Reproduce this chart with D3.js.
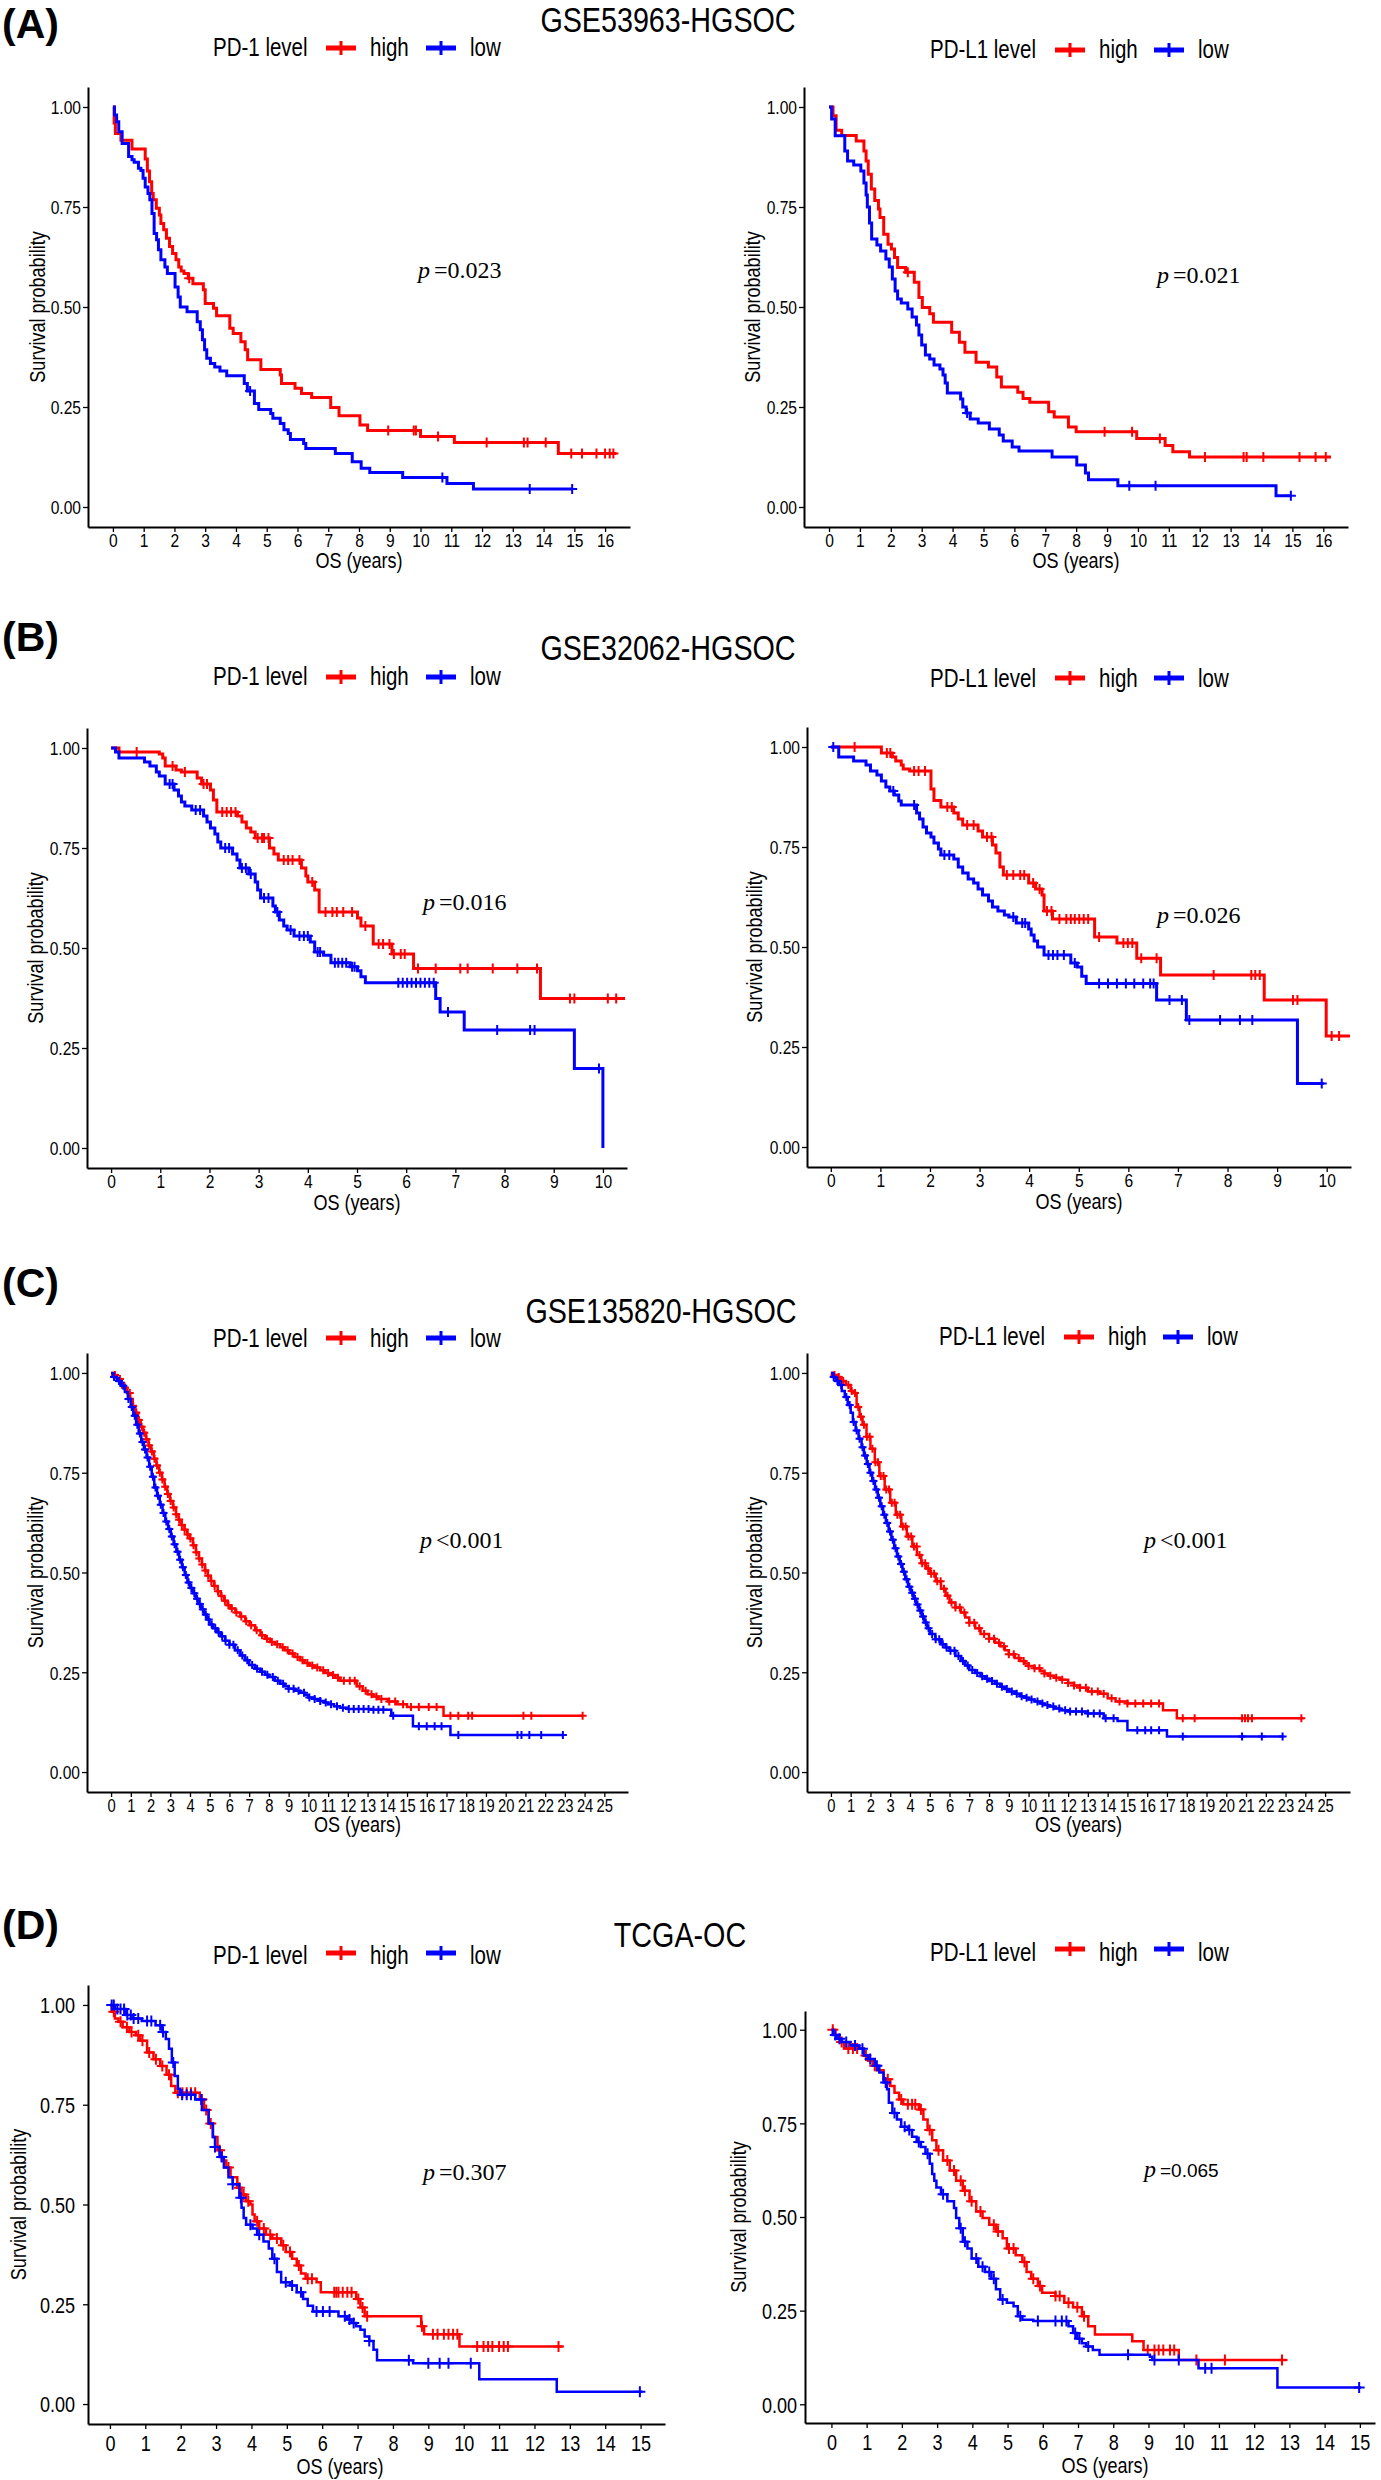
<!DOCTYPE html>
<html><head><meta charset="utf-8">
<script src="https://cdnjs.cloudflare.com/ajax/libs/d3/7.8.5/d3.min.js"></script>
<style>body{margin:0;background:#fff}svg{display:block;background:#fff}</style>
</head><body>
<svg id="chart" width="1381" height="2480"></svg>
<script>
// ---------------- DATA ----------------
const panelLetters = ["(A)", "(B)", "(C)", "(D)"];
const datasetTitles = ["GSE53963-HGSOC", "GSE32062-HGSOC", "GSE135820-HGSOC", "TCGA-OC"];
const legendTitles = ["PD-1 level", "PD-L1 level"];
const groupLabels = ["high", "low"];
const pValues = ["=0.023", "=0.021", "=0.016", "=0.026", "<0.001", "<0.001", "=0.307", "=0.065"];
const yTickValues = [0, 0.25, 0.5, 0.75, 1];
const xTickMax = [16, 10, 25, 15];

// (A) GSE53963 PD-1
const A1_high_t = [0.04,0.08,0.26,0.62,1.05,1.12,1.19,1.26,1.31,1.41,1.51,1.56,1.65,1.74,1.84,1.94,2.05,2.14,2.22,2.31,2.45,2.6,2.94,3.0,3.27,3.37,3.8,3.91,4.16,4.3,4.38,4.81,5.44,5.48,5.92,6.13,6.46,7.08,7.35,8.03,8.28,10.0,11.1,14.48];
const A1_high_s = [0.96,0.934,0.917,0.895,0.87,0.84,0.813,0.784,0.768,0.747,0.73,0.709,0.693,0.672,0.651,0.634,0.618,0.6,0.59,0.584,0.572,0.558,0.543,0.509,0.497,0.478,0.447,0.434,0.413,0.393,0.368,0.344,0.33,0.309,0.297,0.284,0.274,0.249,0.228,0.205,0.191,0.176,0.161,0.134];
const A1_high_c = [2.48,8.95,9.78,9.85,10.57,12.15,13.36,13.48,14.07,14.9,15.25,15.72,16.0,16.15,16.27];
const A1_high_end = 16.37;
const A1_low_t = [0.05,0.12,0.19,0.3,0.51,0.62,0.69,0.83,0.91,0.98,1.05,1.14,1.2,1.27,1.34,1.42,1.48,1.56,1.69,1.77,2.02,2.12,2.19,2.41,2.74,2.84,2.91,2.98,3.05,3.17,3.31,3.48,3.7,4.27,4.37,4.6,4.74,5.13,5.2,5.44,5.56,5.7,5.77,6.2,6.27,7.23,7.78,8.07,8.35,9.42,10.86,11.72];
const A1_low_s = [0.98,0.963,0.938,0.909,0.876,0.868,0.862,0.847,0.841,0.822,0.8,0.784,0.768,0.734,0.684,0.668,0.643,0.618,0.6,0.584,0.55,0.525,0.5,0.488,0.463,0.443,0.418,0.393,0.372,0.359,0.35,0.34,0.328,0.309,0.29,0.259,0.244,0.234,0.222,0.209,0.193,0.184,0.169,0.159,0.146,0.134,0.113,0.097,0.086,0.074,0.059,0.045];
const A1_low_c = [4.46,10.71,13.55,14.93];
const A1_low_end = 14.95;

// (A) GSE53963 PD-L1
const A2_high_t = [0.13,0.23,0.41,0.88,1.13,1.2,1.27,1.37,1.48,1.6,1.65,1.77,1.91,2.02,2.12,2.22,2.48,2.76,2.91,3.02,3.26,3.38,3.97,4.22,4.4,4.76,5.16,5.43,5.58,6.11,6.28,6.5,7.11,7.29,7.75,8.0,9.96,10.88,11.13,11.67];
const A2_high_s = [0.978,0.942,0.929,0.915,0.89,0.865,0.832,0.795,0.766,0.745,0.724,0.682,0.657,0.645,0.624,0.599,0.587,0.562,0.524,0.499,0.483,0.462,0.437,0.412,0.387,0.362,0.35,0.325,0.3,0.287,0.271,0.262,0.238,0.225,0.2,0.188,0.171,0.154,0.138,0.125];
const A2_high_c = [2.55,8.92,9.81,10.71,12.17,13.42,13.52,14.06,15.23,15.75,16.08];
const A2_high_end = 16.25;
const A2_low_t = [0.085,0.2,0.51,0.6,0.8,1.03,1.13,1.2,1.24,1.31,1.38,1.55,1.67,1.84,1.95,2.05,2.14,2.22,2.34,2.55,2.69,2.83,2.91,3.0,3.12,3.26,3.4,3.59,3.69,3.76,3.83,4.26,4.33,4.44,4.57,4.83,5.19,5.51,5.64,5.93,6.15,7.22,8.02,8.3,8.4,9.35,14.47];
const A2_low_s = [0.97,0.928,0.89,0.865,0.855,0.84,0.81,0.78,0.75,0.71,0.67,0.655,0.64,0.62,0.6,0.57,0.54,0.52,0.51,0.495,0.475,0.455,0.43,0.405,0.38,0.37,0.355,0.345,0.33,0.31,0.285,0.27,0.25,0.235,0.22,0.21,0.195,0.18,0.165,0.15,0.14,0.125,0.105,0.085,0.068,0.053,0.028];
const A2_low_c = [4.47,9.72,10.57,14.95];
const A2_low_end = 14.97;

// (B) GSE32062 PD-1
const B1_high_t = [0.16,0.98,1.05,1.1,1.32,1.43,1.75,1.84,2.02,2.08,2.15,2.57,2.66,2.75,2.84,2.93,3.22,3.31,3.4,3.87,3.96,4.0,4.14,4.23,5.01,5.08,5.33,5.71,6.15,8.73];
const B1_high_s = [0.99,0.985,0.975,0.955,0.945,0.94,0.925,0.91,0.895,0.87,0.84,0.83,0.815,0.8,0.79,0.775,0.75,0.735,0.72,0.7,0.68,0.665,0.645,0.59,0.575,0.555,0.51,0.485,0.449,0.374];
const B1_high_c = [0.52,1.25,1.5,1.88,1.95,2.26,2.35,2.44,2.53,2.98,3.07,3.11,3.2,3.51,3.6,3.69,3.83,4.09,4.36,4.5,4.59,4.72,4.9,5.17,5.44,5.53,5.66,5.75,5.89,5.97,6.24,6.6,7.1,7.25,7.76,8.26,8.66,9.33,9.42,10.1,10.27];
const B1_high_end = 10.45;
const B1_low_t = [0.09,0.16,0.68,0.79,0.92,0.98,1.1,1.28,1.37,1.43,1.5,1.64,1.88,1.95,2.02,2.11,2.17,2.23,2.47,2.56,2.62,2.8,2.93,2.98,3.04,3.29,3.34,3.42,3.51,3.58,3.72,4.05,4.14,4.32,4.47,4.86,5.01,5.08,5.17,6.6,6.69,7.18,9.42,10.0];
const B1_low_s = [0.99,0.975,0.965,0.955,0.94,0.93,0.91,0.895,0.88,0.865,0.855,0.845,0.83,0.815,0.8,0.785,0.765,0.75,0.735,0.72,0.7,0.685,0.665,0.645,0.625,0.605,0.59,0.57,0.555,0.545,0.53,0.515,0.49,0.482,0.463,0.453,0.443,0.428,0.413,0.374,0.34,0.295,0.199,0.0];
const B1_low_c = [1.19,1.25,1.72,1.81,2.32,2.4,2.66,2.74,2.84,3.11,3.2,3.38,3.65,3.83,3.92,4.0,4.2,4.25,4.55,4.62,4.7,4.78,4.9,4.95,5.84,5.93,6.02,6.11,6.2,6.29,6.38,6.47,6.56,6.85,7.85,8.52,8.61,9.92];
const B1_low_end = 10.0;

// (B) GSE32062 PD-L1
const B2_high_t = [1.02,1.24,1.31,1.42,1.46,1.59,2.02,2.08,2.22,2.48,2.57,2.66,2.97,3.06,3.26,3.33,3.41,3.48,3.99,4.13,4.26,4.3,4.47,5.32,5.77,6.17,6.65,8.74,9.99];
const B2_high_s = [0.985,0.975,0.965,0.955,0.945,0.94,0.895,0.866,0.85,0.835,0.82,0.805,0.79,0.775,0.755,0.735,0.7,0.68,0.66,0.645,0.63,0.59,0.57,0.525,0.51,0.472,0.43,0.3675,0.2775];
const B2_high_c = [0.48,1.13,1.2,1.68,1.77,1.9,2.35,2.44,2.75,2.88,3.15,3.24,3.55,3.68,3.82,3.9,4.08,4.21,4.36,4.45,4.61,4.75,4.84,4.92,5.01,5.1,5.19,5.41,5.9,5.99,6.08,6.26,6.57,7.72,8.48,8.56,8.65,9.32,9.41,10.1,10.25];
const B2_high_end = 10.47;
const B2_low_t = [0.16,0.46,0.71,0.8,0.93,1.02,1.11,1.19,1.28,1.37,1.42,1.73,1.79,1.86,1.93,2.02,2.08,2.17,2.22,2.48,2.57,2.66,2.77,2.88,2.97,3.06,3.18,3.26,3.37,3.5,3.59,3.74,3.99,4.04,4.1,4.17,4.3,4.84,4.97,5.06,5.15,6.57,7.17,9.41];
const B2_low_s = [0.975,0.965,0.955,0.94,0.93,0.915,0.9,0.89,0.88,0.865,0.855,0.835,0.82,0.8,0.785,0.775,0.76,0.745,0.73,0.72,0.7,0.685,0.67,0.66,0.645,0.63,0.615,0.6,0.59,0.58,0.575,0.56,0.545,0.53,0.515,0.5,0.48,0.46,0.45,0.427,0.409,0.3675,0.3175,0.159];
const B2_low_c = [0.05,1.26,1.68,2.29,2.39,3.68,3.86,3.92,4.39,4.48,4.57,4.7,4.92,5.41,5.59,5.77,5.95,6.12,6.3,6.44,6.51,6.83,7.08,7.23,7.85,8.25,8.5,9.9];
const B2_low_end = 9.94;

// (C) GSE135820 PD-1
const C1_high_t = [0.12,0.3,0.48,0.66,0.82,0.97,1.1,1.24,1.37,1.5,1.63,1.77,1.9,2.03,2.17,2.3,2.44,2.58,2.71,2.85,2.99,3.14,3.29,3.42,3.56,3.72,3.86,3.99,4.15,4.3,4.45,4.6,4.76,4.9,5.05,5.22,5.4,5.56,5.73,5.9,6.05,6.3,6.55,6.8,7.02,7.3,7.57,7.8,8.05,8.3,8.58,8.8,9.03,9.3,9.58,9.8,10.05,10.3,10.6,10.85,11.05,11.35,11.62,12.45,12.75,13.0,13.25,13.55,14.05,14.5,15.0,16.85];
const C1_high_s = [0.995,0.985,0.975,0.963,0.95,0.935,0.917,0.9,0.882,0.865,0.85,0.834,0.818,0.803,0.785,0.768,0.75,0.733,0.715,0.697,0.679,0.663,0.646,0.632,0.619,0.607,0.595,0.585,0.568,0.551,0.535,0.52,0.505,0.492,0.479,0.466,0.453,0.441,0.429,0.418,0.41,0.4,0.39,0.378,0.368,0.355,0.343,0.334,0.326,0.32,0.313,0.305,0.297,0.288,0.28,0.273,0.267,0.262,0.255,0.248,0.243,0.236,0.229,0.215,0.204,0.195,0.189,0.183,0.177,0.17,0.163,0.141];
const C1_high_c = [0.2,0.45,0.7,0.95,1.12,1.28,1.41,1.55,1.68,1.8,1.93,2.07,2.2,2.33,2.47,2.6,2.74,2.88,3.02,3.17,3.3,3.45,3.59,3.73,3.88,4.02,4.18,4.32,4.47,4.62,4.78,4.92,5.08,5.25,5.42,5.6,5.77,5.95,6.12,6.35,6.6,6.85,7.1,7.38,7.65,7.9,8.15,8.42,8.7,8.95,9.2,9.45,9.7,9.95,10.2,10.45,10.75,11.0,11.25,11.5,11.8,12.1,12.35,12.6,12.9,13.2,13.45,13.7,14.1,14.4,14.8,15.2,15.6,16.1,16.5,17.2,17.6,18.1,18.3,20.9,21.3,23.9];
const C1_high_end = 23.9;
const C1_low_t = [0.12,0.3,0.5,0.7,0.85,1.0,1.13,1.27,1.4,1.53,1.66,1.8,1.93,2.06,2.19,2.33,2.47,2.61,2.75,2.89,3.03,3.17,3.31,3.45,3.59,3.73,3.87,4.01,4.15,4.29,4.43,4.57,4.71,4.85,4.99,5.17,5.36,5.55,5.78,6.0,6.28,6.55,6.78,7.0,7.28,7.56,7.8,8.0,8.3,8.57,8.8,9.0,9.3,9.57,9.8,10.0,10.3,10.6,10.8,11.0,11.3,11.6,12.0,13.2,14.2,15.3,17.2];
const C1_low_s = [0.99,0.98,0.968,0.952,0.935,0.915,0.893,0.87,0.848,0.827,0.808,0.788,0.765,0.74,0.713,0.692,0.67,0.649,0.628,0.609,0.59,0.571,0.552,0.532,0.513,0.494,0.475,0.461,0.448,0.434,0.421,0.408,0.395,0.382,0.37,0.36,0.35,0.34,0.329,0.319,0.305,0.292,0.28,0.268,0.259,0.251,0.244,0.238,0.229,0.221,0.215,0.209,0.204,0.199,0.193,0.187,0.183,0.178,0.174,0.17,0.165,0.161,0.158,0.156,0.141,0.115,0.093];
const C1_low_c = [0.15,0.4,0.62,0.88,1.05,1.2,1.33,1.46,1.59,1.72,1.85,1.98,2.12,2.25,2.38,2.52,2.66,2.8,2.95,3.08,3.22,3.37,3.5,3.64,3.79,3.93,4.07,4.22,4.36,4.5,4.65,4.8,4.95,5.1,5.28,5.45,5.63,5.8,6.0,6.2,6.42,6.65,6.9,7.15,7.4,7.65,7.92,8.2,8.45,8.72,9.0,9.25,9.5,9.78,10.05,10.32,10.6,10.88,11.15,11.45,11.75,12.05,12.3,12.55,12.8,13.05,13.3,13.55,13.8,14.3,15.6,16.0,16.4,16.75,17.6,20.6,20.8,21.2,21.8,22.9];
const C1_low_end = 22.9;

// (C) GSE135820 PD-L1
const C2_high_t = [0.1,0.3,0.5,0.75,1.0,1.1,1.3,1.45,1.6,1.8,2.0,2.22,2.45,2.72,3.0,3.28,3.56,3.84,4.12,4.35,4.57,4.8,5.0,5.3,5.57,5.8,6.0,6.3,6.57,6.8,7.0,7.3,7.57,8.0,8.3,8.57,8.8,9.0,9.3,9.58,9.8,10.0,10.3,10.6,10.8,11.0,11.3,11.6,12.0,12.3,12.6,13.0,13.6,14.0,14.4,15.0,16.8,17.5];
const C2_high_s = [0.995,0.99,0.98,0.97,0.955,0.95,0.915,0.89,0.87,0.84,0.81,0.776,0.742,0.708,0.675,0.645,0.615,0.59,0.565,0.544,0.523,0.51,0.497,0.478,0.459,0.442,0.425,0.412,0.4,0.387,0.374,0.36,0.346,0.334,0.324,0.315,0.305,0.295,0.286,0.278,0.272,0.266,0.26,0.253,0.247,0.241,0.236,0.231,0.223,0.217,0.211,0.202,0.196,0.185,0.177,0.172,0.155,0.135];
const C2_high_c = [0.18,0.4,0.62,0.88,1.05,1.22,1.38,1.52,1.67,1.82,1.96,2.1,2.25,2.38,2.52,2.66,2.8,2.94,3.08,3.22,3.36,3.5,3.64,3.78,3.92,4.06,4.2,4.34,4.48,4.62,4.77,4.92,5.07,5.22,5.38,5.55,5.72,5.9,6.1,6.3,6.52,6.75,7.0,7.25,7.5,7.75,8.0,8.25,8.5,8.75,9.0,9.25,9.5,9.75,10.0,10.3,10.55,10.8,11.1,11.4,11.7,12.0,12.3,12.6,12.9,13.2,13.5,13.8,14.2,14.6,15.0,15.4,15.8,16.2,16.6,17.8,18.4,20.8,20.95,21.1,21.3,23.8];
const C2_high_end = 23.9;
const C2_low_t = [0.1,0.25,0.4,0.55,0.7,0.85,1.0,1.11,1.25,1.4,1.55,1.67,1.81,1.95,2.09,2.23,2.37,2.5,2.64,2.78,2.92,3.06,3.2,3.34,3.48,3.62,3.76,3.9,4.04,4.18,4.31,4.45,4.59,4.73,4.87,5.0,5.28,5.57,5.8,6.0,6.3,6.57,6.8,7.0,7.3,7.57,7.8,8.0,8.3,8.57,8.8,9.0,9.3,9.58,9.8,10.0,10.3,10.6,10.8,11.0,11.3,11.6,12.0,13.0,13.8,14.5,15.0,17.0];
const C2_low_s = [0.99,0.98,0.97,0.955,0.94,0.92,0.9,0.877,0.856,0.835,0.814,0.793,0.772,0.75,0.729,0.708,0.687,0.666,0.645,0.624,0.603,0.582,0.561,0.54,0.521,0.502,0.483,0.464,0.449,0.434,0.42,0.405,0.39,0.375,0.36,0.346,0.333,0.32,0.312,0.304,0.291,0.278,0.267,0.256,0.248,0.24,0.234,0.228,0.221,0.214,0.208,0.202,0.196,0.19,0.186,0.182,0.177,0.172,0.168,0.164,0.159,0.155,0.152,0.147,0.135,0.128,0.105,0.089];
const C2_low_c = [0.14,0.33,0.52,0.78,0.95,1.15,1.3,1.45,1.6,1.73,1.87,2.0,2.15,2.3,2.43,2.57,2.7,2.85,2.99,3.13,3.27,3.41,3.55,3.69,3.83,3.97,4.11,4.25,4.38,4.52,4.66,4.8,4.94,5.12,5.3,5.48,5.66,5.85,6.05,6.25,6.45,6.68,6.92,7.15,7.4,7.65,7.9,8.15,8.4,8.65,8.9,9.15,9.4,9.65,9.9,10.15,10.45,10.7,10.95,11.25,11.55,11.85,12.1,12.4,12.7,13.0,13.3,13.6,13.9,14.3,15.5,15.9,16.2,16.6,17.8,20.8,21.8,22.85];
const C2_low_end = 22.9;

// (D) TCGA-OC PD-1
const D1_high_t = [0.05,0.14,0.24,0.36,0.55,0.73,0.86,1.05,1.23,1.42,1.6,1.73,1.85,2.54,2.66,2.79,2.91,3.04,3.16,3.29,3.41,3.6,3.72,3.85,3.97,4.03,4.09,4.22,4.41,4.59,4.84,4.97,5.15,5.28,5.4,5.53,5.84,5.96,6.96,7.08,7.2,8.8,8.88,9.88];
const D1_high_s = [0.983,0.966,0.958,0.944,0.932,0.924,0.91,0.881,0.864,0.847,0.825,0.797,0.78,0.763,0.737,0.703,0.669,0.636,0.61,0.593,0.568,0.542,0.525,0.508,0.5,0.475,0.458,0.44,0.424,0.415,0.398,0.381,0.364,0.347,0.327,0.314,0.305,0.28,0.263,0.242,0.22,0.195,0.175,0.144];
const D1_high_c = [0.11,0.3,0.48,0.61,0.8,0.92,1.11,1.3,1.48,1.67,1.92,2.05,2.17,2.29,2.41,2.6,2.72,2.85,3.1,3.35,3.66,3.78,3.91,4.16,4.35,4.53,4.72,4.9,5.09,5.34,5.59,5.71,6.34,6.4,6.46,6.58,6.71,6.83,7.02,7.14,7.27,8.82,9.13,9.26,9.44,9.57,9.7,9.82,10.38,10.56,10.69,10.81,11.0,11.13,11.25,12.68];
const D1_high_end = 12.8;
const D1_low_t = [0.14,0.45,0.61,0.9,1.29,1.48,1.58,1.67,1.75,1.83,1.92,1.98,2.41,2.6,2.79,2.91,2.97,3.1,3.22,3.35,3.47,3.66,3.72,3.78,3.85,4.03,4.16,4.34,4.49,4.59,4.72,4.84,5.09,5.28,5.46,5.59,5.74,6.46,6.71,6.83,6.96,7.08,7.2,7.33,7.45,7.55,8.57,10.44,12.63];
const D1_low_s = [0.99,0.975,0.966,0.96,0.949,0.932,0.915,0.89,0.856,0.822,0.79,0.775,0.763,0.737,0.703,0.669,0.644,0.619,0.593,0.568,0.551,0.517,0.492,0.466,0.449,0.44,0.424,0.407,0.39,0.364,0.331,0.305,0.297,0.28,0.263,0.246,0.232,0.22,0.212,0.203,0.195,0.186,0.169,0.158,0.136,0.11,0.102,0.062,0.031];
const D1_low_c = [0.05,0.11,0.21,0.3,0.4,0.49,0.59,0.67,0.8,1.05,1.17,1.42,1.5,1.79,2.04,2.17,2.29,2.58,2.97,3.16,3.47,3.7,3.97,4.22,4.65,4.97,5.15,5.4,5.84,6.02,6.21,6.64,6.77,6.89,7.33,8.45,9.0,9.32,9.57,10.2,14.98];
const D1_low_end = 15.05;

// (D) TCGA-OC PD-L1
const D2_high_t = [0.11,0.23,0.36,0.92,1.04,1.17,1.29,1.48,1.67,1.79,1.92,2.04,2.48,2.61,2.73,2.86,2.98,3.17,3.36,3.54,3.73,3.92,4.11,4.29,4.48,4.67,4.86,4.98,5.23,5.42,5.54,5.67,5.86,5.98,6.36,6.61,6.86,7.11,7.29,7.48,8.54,8.86,9.86];
const D2_high_s = [0.986,0.967,0.95,0.931,0.917,0.904,0.892,0.868,0.85,0.832,0.814,0.801,0.787,0.76,0.732,0.705,0.678,0.651,0.624,0.597,0.57,0.542,0.515,0.497,0.479,0.461,0.443,0.416,0.398,0.38,0.353,0.335,0.316,0.298,0.289,0.271,0.259,0.235,0.208,0.186,0.168,0.145,0.118];
const D2_high_c = [0.04,0.29,0.48,0.61,0.73,0.98,1.23,1.6,1.98,2.17,2.29,2.38,2.54,2.79,3.04,3.29,3.48,3.67,3.79,3.98,4.23,4.61,4.73,5.04,5.17,5.48,5.73,5.92,6.36,6.48,6.73,6.98,7.17,8.98,9.17,9.29,9.42,9.61,9.73,10.36,11.17,12.79];
const D2_high_end = 12.92;
const D2_low_t = [0.04,0.17,0.29,0.54,0.79,0.92,1.04,1.23,1.36,1.48,1.58,1.63,1.73,1.86,1.98,2.17,2.29,2.42,2.54,2.67,2.79,2.86,2.92,2.98,3.11,3.29,3.48,3.54,3.63,3.73,3.86,3.98,4.17,4.36,4.54,4.67,4.79,4.98,5.17,5.29,5.42,5.73,6.73,6.86,6.98,7.11,7.23,7.42,7.61,9.04,9.11,10.42,12.66];
const D2_low_s = [0.986,0.976,0.967,0.958,0.949,0.931,0.922,0.904,0.886,0.859,0.841,0.805,0.778,0.76,0.741,0.732,0.714,0.7,0.687,0.669,0.642,0.615,0.597,0.579,0.561,0.542,0.524,0.497,0.47,0.434,0.416,0.389,0.367,0.353,0.335,0.307,0.28,0.271,0.262,0.235,0.226,0.222,0.208,0.19,0.175,0.163,0.154,0.145,0.132,0.127,0.118,0.096,0.045];
const D2_low_c = [0.11,0.23,0.42,0.67,0.88,1.1,1.29,1.54,1.79,2.08,2.21,2.48,2.73,3.17,3.67,3.79,4.11,4.29,4.48,4.61,4.86,5.36,5.86,6.36,6.54,6.67,6.92,7.04,7.29,8.42,9.17,9.86,10.61,10.79,14.98];
const D2_low_end = 15.03;

// ---------------- LAYOUT ----------------
const RED = "#FF0000", BLUE = "#0000FF";
const SANS = "'Liberation Sans',Arial,sans-serif";
const SERIF = "'Liberation Serif','Times New Roman',serif";
const NARROW_FACTOR = 0.82;   // emulates a narrow (condensed) sans face

function curves(hT,hS,hC,hE,lT,lS,lC,lE){
  return [{t:hT,s:hS,c:hC,end:hE,color:RED},{t:lT,s:lS,c:lC,end:lE,color:BLUE}];
}

const panels = [
  {row:0,col:0,x0:88,x1:630,xdom:[-0.81,16.81],yTop:87,yBot:527,ylabX:37,tickFs:19,xtickFs:19,xLabOff:20,xTitleOff:41,yGap:7,lw:3,cs:5,
   legX:213,legBase:56,legKy:48,pX:418,pY:278,
   cv:curves(A1_high_t,A1_high_s,A1_high_c,A1_high_end,A1_low_t,A1_low_s,A1_low_c,A1_low_end)},
  {row:0,col:1,x0:804,x1:1348,xdom:[-0.81,16.8],yTop:87,yBot:527,ylabX:752,tickFs:19,xtickFs:19,xLabOff:20,xTitleOff:41,yGap:7,lw:3,cs:5,
   legX:930,legBase:58,legKy:50,pX:1157,pY:283,
   cv:curves(A2_high_t,A2_high_s,A2_high_c,A2_high_end,A2_low_t,A2_low_s,A2_low_c,A2_low_end)},
  {row:1,col:0,x0:87,x1:627,xdom:[-0.49,10.49],yTop:728,yBot:1168,ylabX:35,tickFs:19,xtickFs:19,xLabOff:20,xTitleOff:42,yGap:7,lw:3,cs:5,
   legX:213,legBase:685,legKy:677,pX:423,pY:910,
   cv:curves(B1_high_t,B1_high_s,B1_high_c,B1_high_end,B1_low_t,B1_low_s,B1_low_c,B1_low_end)},
  {row:1,col:1,x0:807,x1:1351,xdom:[-0.48,10.49],yTop:727,yBot:1167,ylabX:754,tickFs:19,xtickFs:19,xLabOff:20,xTitleOff:42,yGap:7,lw:3,cs:5,
   legX:930,legBase:687,legKy:678,pX:1157,pY:923,
   cv:curves(B2_high_t,B2_high_s,B2_high_c,B2_high_end,B2_low_t,B2_low_s,B2_low_c,B2_low_end)},
  {row:2,col:0,x0:87,x1:628,xdom:[-1.22,26.2],yTop:1353,yBot:1792,ylabX:35,tickFs:19,xtickFs:18,xLabOff:20,xTitleOff:40,yGap:7,lw:2.5,cs:4,
   legX:213,legBase:1347,legKy:1338,pX:420,pY:1548,
   cv:curves(C1_high_t,C1_high_s,C1_high_c,C1_high_end,C1_low_t,C1_low_s,C1_low_c,C1_low_end)},
  {row:2,col:1,x0:807,x1:1350,xdom:[-1.21,26.26],yTop:1353,yBot:1792,ylabX:754,tickFs:19,xtickFs:18,xLabOff:20,xTitleOff:40,yGap:7,lw:2.5,cs:4,
   legX:939,legBase:1345,legKy:1337,pX:1144,pY:1548,
   cv:curves(C2_high_t,C2_high_s,C2_high_c,C2_high_end,C2_low_t,C2_low_s,C2_low_c,C2_low_end)},
  {row:3,col:0,x0:88,x1:665,xdom:[-0.62,15.69],yTop:1985,yBot:2424,ylabX:18,tickFs:22,xtickFs:22,xLabOff:27,xTitleOff:50,yGap:13,lw:2.5,cs:5.5,
   xTitleX:340,legX:213,legBase:1964,legKy:1953,pX:423,pY:2180,
   cv:curves(D1_high_t,D1_high_s,D1_high_c,D1_high_end,D1_low_t,D1_low_s,D1_low_c,D1_low_end)},
  {row:3,col:1,x0:805,x1:1375,xdom:[-0.75,15.43],yTop:2011,yBot:2423,ylabX:738,tickFs:22,xtickFs:22,xLabOff:27,xTitleOff:50,yGap:8,lw:2.5,cs:5.5,
   xTitleX:1105,legX:930,legBase:1961,legKy:1949,pX:1144,pY:2177,pSans:true,
   cv:curves(D2_high_t,D2_high_s,D2_high_c,D2_high_end,D2_low_t,D2_low_s,D2_low_c,D2_low_end)}
];

const letterPos = [38, 651, 1297, 1939];
const titlePos = [[668,32],[668,660],[661,1323],[680,1947]];

// ---------------- DRAW ----------------
const svg = d3.select("#chart");
svg.append("rect").attr("width",1381).attr("height",2480).attr("fill","#fff");

panelLetters.forEach((L,i)=>{
  svg.append("text").attr("x",2).attr("y",letterPos[i]).text(L)
    .attr("font-family",SANS).attr("font-weight","bold").attr("font-size",41).attr("fill","#000");
});
datasetTitles.forEach((T,i)=>{
  svg.append("text").attr("class","nw").attr("x",titlePos[i][0]).attr("y",titlePos[i][1]).text(T)
    .attr("text-anchor","middle").attr("font-family",SANS).attr("font-size",35).attr("fill","#000");
});

function survAt(t, ts, ss){
  let v = 1;
  for(let i=0;i<ts.length;i++){ if(ts[i] <= t) v = ss[i]; else break; }
  return v;
}

panels.forEach((p, idx)=>{
  const g = svg.append("g");
  const x = d3.scaleLinear().domain(p.xdom).range([p.x0, p.x1]);
  const y = d3.scaleLinear().domain([-0.05, 1.05]).range([p.yBot, p.yTop]);

  // x axis
  const xa = g.append("g").attr("transform",`translate(0,${p.yBot})`)
    .call(d3.axisBottom(x).tickValues(d3.range(0, xTickMax[p.row]+1)).tickFormat(d3.format("d"))
      .tickSize(5).tickSizeOuter(0));
  xa.select(".domain").attr("stroke","#000").attr("stroke-width",2);
  xa.selectAll(".tick line").attr("stroke","#000").attr("stroke-width",1.3);
  xa.selectAll(".tick text").attr("class","nw").attr("y",p.xLabOff).attr("dy",null)
    .attr("font-family",SANS).attr("font-size",p.xtickFs).attr("fill","#000");

  // y axis
  const ya = g.append("g").attr("transform",`translate(${p.x0},0)`)
    .call(d3.axisLeft(y).tickValues(yTickValues).tickFormat(d3.format(".2f"))
      .tickSize(5).tickSizeOuter(0));
  ya.select(".domain").attr("stroke","#000").attr("stroke-width",2);
  ya.selectAll(".tick line").attr("stroke","#000").attr("stroke-width",1.3);
  ya.selectAll(".tick text").attr("class","nw").attr("x",-p.yGap).attr("dy","0.36em")
    .attr("font-family",SANS).attr("font-size",p.tickFs).attr("fill","#000");

  // axis titles
  g.append("text").attr("class","nw").attr("x", p.xTitleX || (p.x0+p.x1)/2).attr("y", p.yBot + p.xTitleOff)
    .attr("text-anchor","middle").attr("font-family",SANS).attr("font-size",22).text("OS (years)");
  g.append("text").attr("class","nw").attr("transform",`translate(${p.ylabX},${(p.yTop+p.yBot)/2}) rotate(-90)`)
    .attr("text-anchor","middle").attr("dy","0.35em").attr("font-family",SANS).attr("font-size",22)
    .text("Survival probability");

  // curves
  const line = d3.line().x(d=>x(d[0])).y(d=>y(d[1])).curve(d3.curveStepAfter);
  p.cv.forEach(c=>{
    const pts = [[0,1]];
    c.t.forEach((t,i)=>pts.push([t, c.s[i]]));
    pts.push([c.end, c.s[c.s.length-1]]);
    g.append("path").attr("d", line(pts)).attr("fill","none")
      .attr("stroke", c.color).attr("stroke-width", p.lw).attr("stroke-linejoin","miter");
    const cs = p.cs;
    g.append("g").selectAll("path").data(c.c).join("path")
      .attr("d", t=>{
        const px = x(t), py = y(survAt(t, c.t, c.s));
        return `M${px-cs},${py}H${px+cs}M${px},${py-cs}V${py+cs}`;
      })
      .attr("stroke", c.color).attr("stroke-width", 2).attr("fill","none");
  });

  // legend
  const isL1 = p.col === 1;
  const lg = g.append("g").attr("font-family",SANS).attr("font-size",25).attr("fill","#000");
  lg.append("text").attr("class","nw").attr("x",p.legX).attr("y",p.legBase).text(legendTitles[p.col]);
  const keyOff = isL1 ? [125, 224] : [113, 213];
  const labOff = isL1 ? [169, 268] : [157, 257];
  [RED, BLUE].forEach((col,k)=>{
    const kx = p.legX + keyOff[k];
    lg.append("line").attr("x1",kx).attr("x2",kx+30).attr("y1",p.legKy).attr("y2",p.legKy)
      .attr("stroke",col).attr("stroke-width",5);
    lg.append("line").attr("x1",kx+15).attr("x2",kx+15).attr("y1",p.legKy-7).attr("y2",p.legKy+7)
      .attr("stroke",col).attr("stroke-width",3);
    lg.append("text").attr("class","nw").attr("x",p.legX + labOff[k]).attr("y",p.legBase).text(groupLabels[k]);
  });

  // p-value
  const pt = g.append("text").attr("x",p.pX).attr("y",p.pY).attr("font-family",SERIF).attr("font-size",24).attr("fill","#000");
  pt.append("tspan").attr("font-style","italic").text("p");
  const rest = pt.append("tspan").attr("dx",4).text(pValues[idx]);
  if (p.pSans) rest.attr("font-family",SANS).attr("font-size",19);
});

// condense sans text to a narrow face width
svg.selectAll("text.nw").each(function(){
  const w = this.getComputedTextLength();
  d3.select(this).attr("textLength", w * NARROW_FACTOR).attr("lengthAdjust","spacingAndGlyphs");
});
</script>
</body></html>
